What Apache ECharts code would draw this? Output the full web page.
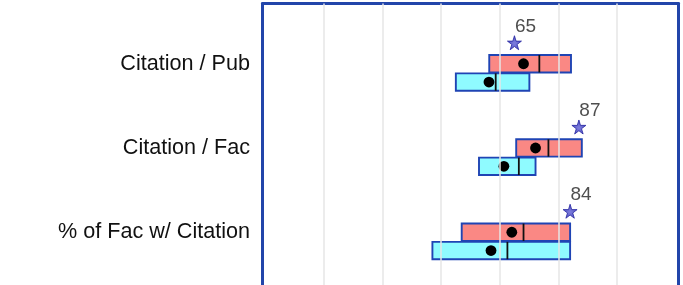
<!DOCTYPE html>
<html>
<head>
<meta charset="utf-8">
<script src="https://cdn.jsdelivr.net/npm/echarts@6/dist/echarts.min.js"></script>
<style>
html, body { margin: 0; padding: 0; background: #fff; }
#chart { width: 683px; height: 285px; }
</style>
</head>
<body>
<div id="chart"></div>
<script>
var categories = ['Citation / Pub', 'Citation / Fac', '% of Fac w/ Citation'];
// each row: [q1, median, q3, mean]
var redBox = [[56.4, 73.5, 84.3, 68.1], [65.6, 76.6, 88.0, 72.2], [47.0, 68.1, 84.0, 64.1]];
var cyanBox = [[45.0, 58.6, 70.1, 56.3], [52.9, 66.5, 72.2, 61.4], [37.0, 62.6, 84.0, 57.0]];
var starValues = [65, 87, 84];
var gridTicks = [0, 20, 40, 60, 80, 100];

var xMin = -21, xMax = 121;
var font = 'Liberation Sans, Arial, sans-serif';
var frameColor = '#2245aa';
var starPath = 'path://M50,0 L61,35 L98,35 L68,57 L79,91 L50,70 L21,91 L32,57 L2,35 L39,35 Z';

function boxRenderer(fill, offset) {
    return function (params, api) {
        var cat = api.value(4);
        var p1 = api.coord([api.value(0), cat]);
        var pm = api.coord([api.value(1), cat]);
        var p3 = api.coord([api.value(2), cat]);
        var pa = api.coord([api.value(3), cat]);
        var cy = p1[1] + offset;
        var h = 17.4;
        return {
            type: 'group',
            children: [
                { type: 'rect', shape: { x: p1[0], y: cy - h / 2, width: p3[0] - p1[0], height: h },
                  style: { fill: fill, stroke: '#1f44b4', lineWidth: 1.9 } },
                { type: 'line', shape: { x1: pm[0], y1: cy - h / 2, x2: pm[0], y2: cy + h / 2 },
                  style: { stroke: '#111', lineWidth: 1.8 } },
                { type: 'circle', shape: { cx: pa[0], cy: cy, r: 5.4 }, style: { fill: '#000' } }
            ]
        };
    };
}

function withCat(rows) {
    return rows.map(function (r, i) { return r.concat([i]); });
}

var frameLine = { show: true, onZero: false, lineStyle: { color: frameColor, width: 3 } };

var chart = echarts.init(document.getElementById('chart'));
var option = {
    animation: false,
    grid: [
        { left: 262.5, width: 416, top: 3.5, bottom: 0 },
        { left: 262.5, width: 416, top: 21.6, height: 252.75 }
    ],
    xAxis: [
        { type: 'value', gridIndex: 0, min: xMin, max: xMax, position: 'top',
          axisLine: frameLine, axisTick: { show: false }, axisLabel: { show: false },
          splitLine: { show: false } },
        { type: 'value', gridIndex: 1, min: xMin, max: xMax, show: false }
    ],
    yAxis: [
        { type: 'value', gridIndex: 0, min: 0, max: 1, position: 'left',
          axisLine: frameLine, axisTick: { show: false }, axisLabel: { show: false },
          splitLine: { show: false } },
        { type: 'category', gridIndex: 1, data: categories, inverse: true,
          axisLine: { show: false }, axisTick: { show: false }, splitLine: { show: false },
          axisLabel: { fontSize: 21.6, color: '#111', fontFamily: font, margin: 12.5 } },
        { type: 'value', gridIndex: 0, min: 0, max: 1, position: 'right',
          axisLine: frameLine, axisTick: { show: false }, axisLabel: { show: false },
          splitLine: { show: false } }
    ],
    series: [
        {
            type: 'line', xAxisIndex: 0, yAxisIndex: 0, data: [],
            markLine: {
                silent: true, symbol: 'none', label: { show: false },
                lineStyle: { color: '#e6e6e6', width: 1.5, type: 'solid' },
                data: gridTicks.map(function (v) { return { xAxis: v }; })
            }
        },
        {
            type: 'custom', xAxisIndex: 1, yAxisIndex: 1,
            renderItem: boxRenderer('#fa8884', 0),
            encode: { x: [0, 1, 2, 3], y: 4 },
            data: withCat(redBox)
        },
        {
            type: 'custom', xAxisIndex: 1, yAxisIndex: 1,
            renderItem: boxRenderer('#8ffbff', 18.3),
            encode: { x: [0, 1, 2, 3], y: 4 },
            data: withCat(cyanBox)
        },
        {
            type: 'scatter', xAxisIndex: 1, yAxisIndex: 1,
            symbol: starPath, symbolSize: 14, symbolOffset: [0, -21],
            itemStyle: {
                color: { type: 'radial', x: 0.5, y: 0.55, r: 0.55,
                         colorStops: [{ offset: 0, color: '#5c5cd4' }, { offset: 1, color: '#2424b0' }] },
                borderColor: '#2424a0', borderWidth: 1
            },
            label: { show: true, position: 'top', distance: 2, offset: [11, 3],
                     fontSize: 19, color: '#222', fontFamily: font,
                     formatter: function (p) { return p.value[0]; } },
            data: starValues.map(function (v, i) { return [v, i]; })
        }
    ]
};
chart.setOption(option);
</script>
</body>
</html>
